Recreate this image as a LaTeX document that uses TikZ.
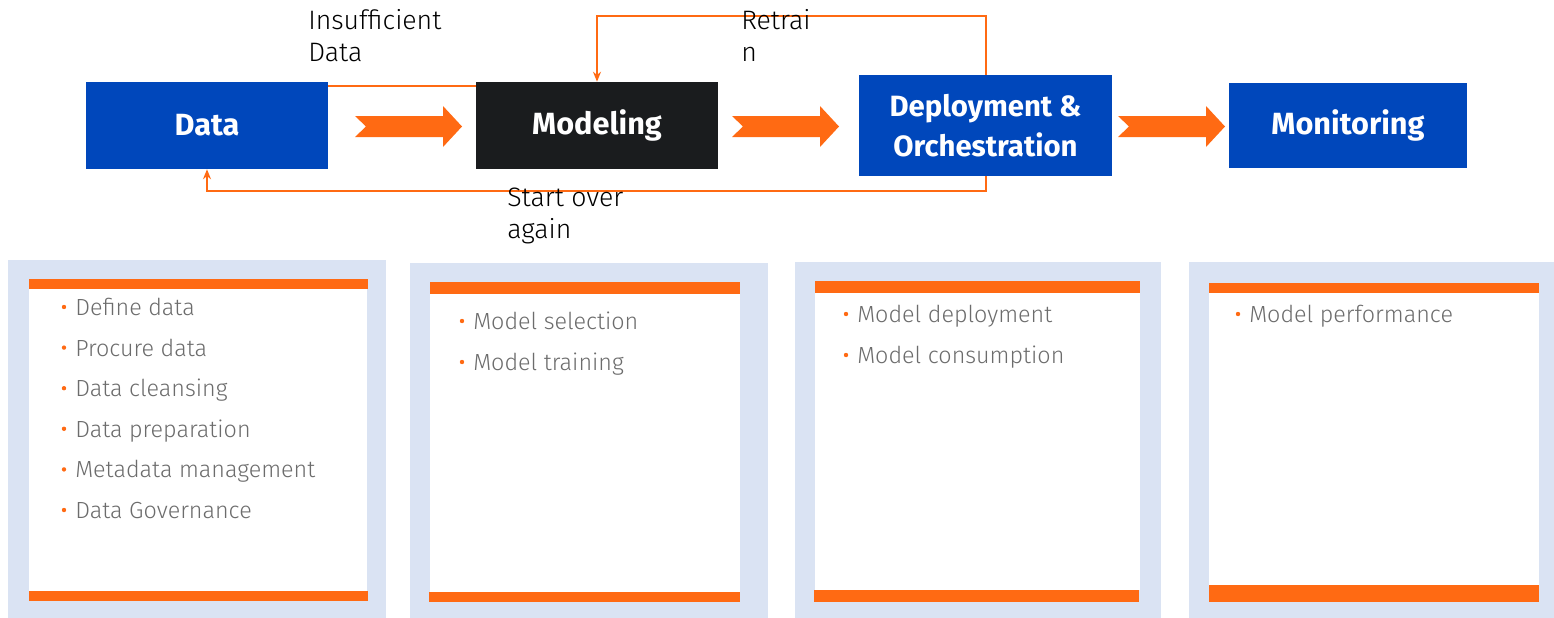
\documentclass[tikz,border=0pt]{standalone}
\usepackage{fontspec}
\setmainfont{Fira Sans}
\newfontfamily\lightfont{Fira Sans Light}
\usetikzlibrary{arrows.meta,calc}
\definecolor{ublue}{RGB}{0,71,187}
\definecolor{ublack}{RGB}{26,28,30}
\definecolor{uorange}{RGB}{255,106,19}
\definecolor{upanel}{RGB}{218,227,243}
\definecolor{ugray}{RGB}{108,108,108}
\newcommand{\bitem}[4]{%
  \fill[uorange] (#1-11,#2-8.5) circle (2.2);
  \node[item, anchor=base west] (#4) at (#1,#2) {#3};}
\begin{document}
\begin{tikzpicture}[x=0.75pt,y=-0.75pt,
  box/.style={inner sep=0pt, text=white, align=center,
    font=\fontsize{23}{30}\selectfont\bfseries},
  flow/.style={draw=uorange, line width=1.5pt, -{Stealth[length=7.5pt,width=6pt]}},
  plain/.style={draw=uorange, line width=1.5pt},
  lbl/.style={inner sep=0pt, align=left, text=black,
    font=\lightfont\fontsize{20}{24}\selectfont},
  item/.style={inner sep=0pt, text=ugray, font=\lightfont\fontsize{17.5}{21}\selectfont},
  chev/.style={fill=uorange}
]
\useasboundingbox (0,0) rectangle (1554,618);

% main boxes
\node[box, fill=ublue, minimum width=181.5pt, minimum height=65.25pt] (data) at (207,125.5) {Data};
\node[box, fill=ublack, minimum width=181.5pt, minimum height=65.25pt] (model) at (597,125.5) {Modeling};
\node[box, fill=ublue, minimum width=189.75pt, minimum height=75.75pt,
      font=\fontsize{22}{30}\selectfont\bfseries] (deploy) at (985.5,125.5) {Deployment \&\\Orchestration};
\node[box, fill=ublue, minimum width=178.5pt, minimum height=63.75pt] (mon) at (1348,125.5) {Monitoring};

% chevron arrows
\foreach \s in {355,732,1118}{
  \fill[chev] (\s,116) -- (\s+88,116) -- (\s+88,106) -- (\s+107,126.5) -- (\s+88,147)
    -- (\s+88,137) -- (\s,137) -- (\s+11,126.5) -- cycle;
}

% feedback connectors
\draw[plain] (data.east |- 0,85.5) -- (model.west |- 0,85.5);
\draw[flow] (deploy.north) -- (deploy.north |- 0,16) -| (model.north);
\draw[flow] (deploy.south) -- (deploy.south |- 0,191) -| (data.south);

% labels
\node[lbl, anchor=base west] (linsuf) at (308,61.5) {Insufficient\\Data};
\node[lbl, anchor=base west] (lretrain) at (741,61.5) {Retrai\\n};
\node[lbl, anchor=base west] (lstart) at (507,238.5) {Start over\\again};

% panels
\fill[upanel] (8,260) rectangle (386,618);
\fill[white] (29,289) rectangle (367,591);
\fill[uorange] (29,279) rectangle (368,289);
\fill[uorange] (29,591) rectangle (368,601);

\fill[upanel] (410,263) rectangle (768,618);
\fill[white] (430,294) rectangle (740,592);
\fill[uorange] (430,282) rectangle (740,294);
\fill[uorange] (429,592) rectangle (740,602);

\fill[upanel] (795,262) rectangle (1161,618);
\fill[white] (815,293) rectangle (1140,590);
\fill[uorange] (815,281) rectangle (1140,293);
\fill[uorange] (814,590) rectangle (1139,602);

\fill[upanel] (1189,262) rectangle (1554,618);
\fill[white] (1209,293) rectangle (1539,585);
\fill[uorange] (1209,283) rectangle (1539,293);
\fill[uorange] (1209,585) rectangle (1539,602);

% panel texts
\bitem{75}{315.5}{Define data}{p1a}
\bitem{75}{356.1}{Procure data}{p1b}
\bitem{75}{396.7}{Data cleansing}{p1c}
\bitem{75}{437.3}{Data preparation}{p1d}
\bitem{75}{477.9}{Metadata management}{p1e}
\bitem{75}{518.5}{Data Governance}{p1f}

\bitem{473}{329.5}{Model selection}{p2a}
\bitem{473}{370.5}{Model training}{p2b}

\bitem{857}{322.5}{Model deployment}{p3a}
\bitem{857}{363.5}{Model consumption}{p3b}

\bitem{1249}{322.5}{Model performance}{p4a}
\end{tikzpicture}
\end{document}
